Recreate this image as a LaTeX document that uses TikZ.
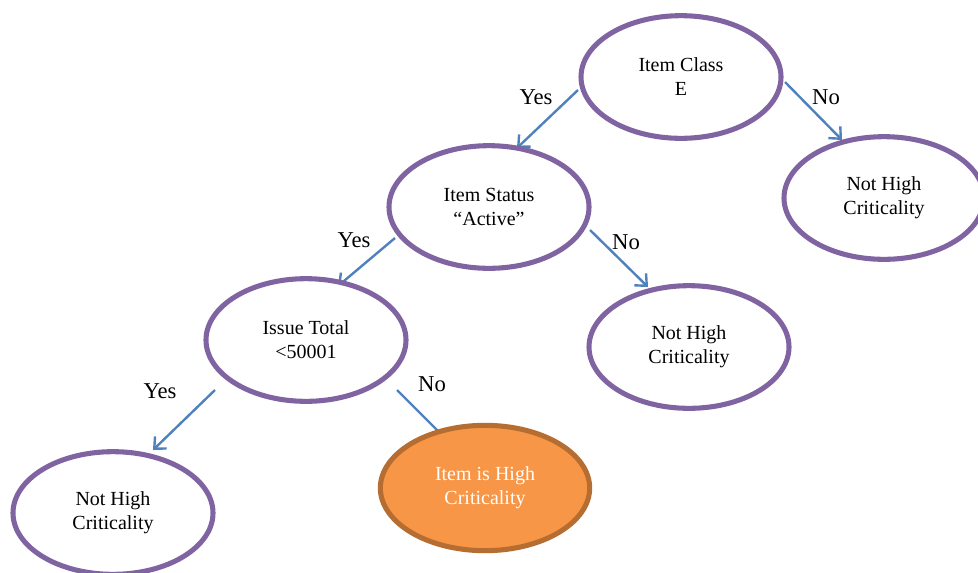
\documentclass[tikz,border=0pt]{standalone}
\usepackage{fontspec}
\setmainfont{Liberation Serif}
\usepackage{xcolor}
\usetikzlibrary{arrows.meta, positioning, shapes.geometric, backgrounds}
\definecolor{treepurple}{HTML}{8064A2}
\definecolor{treeblue}{HTML}{4F81BD}
\definecolor{treeorange}{HTML}{F79646}
\definecolor{treebrown}{HTML}{B66D31}
\tikzset{
    decision/.style={
        ellipse,
        draw=treepurple,
        line width=3.8pt,
        fill=white,
        minimum width=150pt,
        minimum height=92pt,
        inner sep=0pt,
        align=center,
        font=\fontsize{15}{18}\selectfont % teks simpul
    },
    result/.style={
        decision,
        draw=treebrown,
        fill=treeorange,
        text=white,
        minimum width=157pt,
        minimum height=94pt
    },
    branch/.style={-{Straight Barb[length=2.4mm, width=4.4mm]}, draw=treeblue, line width=1.8pt},
    answer/.style={font=\fontsize{17}{20}\selectfont}
}

\begin{document}
\begin{tikzpicture}[x=0.75pt, y=-0.75pt]

    \useasboundingbox (0,0) rectangle (978,572);

    \node[decision] (itemclass) at (681,77) {Item Class\\E};
    \node[decision] (nothighright) at (884,198) {Not High\\Criticality};
    \node[decision] (itemstatus) at (489,207) {Item Status\\``Active''};
    \node[decision] (nothighmid) at (689,347) {Not High\\Criticality};
    \node[decision] (issuetotal) at (306,340) {Issue Total\\<50001};
    \node[decision] (nothighleft) at (113,513) {Not High\\Criticality};
    \node[result] (highcrit) at (485,488) {Item is High\\Criticality};

    \begin{scope}[on background layer]
    \draw[branch]
        ([shift={(-103,13)}]itemclass.center) -- ([shift={(28,-59)}]itemstatus.center);
    \draw[branch]
        ([shift={(104,5)}]itemclass.center) -- ([shift={(-42,-58)}]nothighright.center);
    \draw[branch]
        ([shift={(-94,31)}]itemstatus.center) -- ([shift={(32,-54)}]issuetotal.center);
    \draw[branch]
        ([shift={(101,23)}]itemstatus.center) -- ([shift={(-41,-60)}]nothighmid.center);
    \draw[branch]
        ([shift={(-91,50)}]issuetotal.center) -- ([shift={(40,-63)}]nothighleft.center);
    \draw[branch]
        ([shift={(91,50)}]issuetotal.center) -- ([shift={(-30,-40)}]highcrit.center);
    \end{scope}

    \node[answer] (yesclass) at (536,97) {Yes};
    \node[answer] (noclass) at (826,97) {No};
    \node[answer] (yesstatus) at (354,240) {Yes};
    \node[answer] (nostatus) at (626,242) {No};
    \node[answer] (yesissue) at (160,391) {Yes};
    \node[answer] (noissue) at (432,384) {No};

\end{tikzpicture}
\end{document}
